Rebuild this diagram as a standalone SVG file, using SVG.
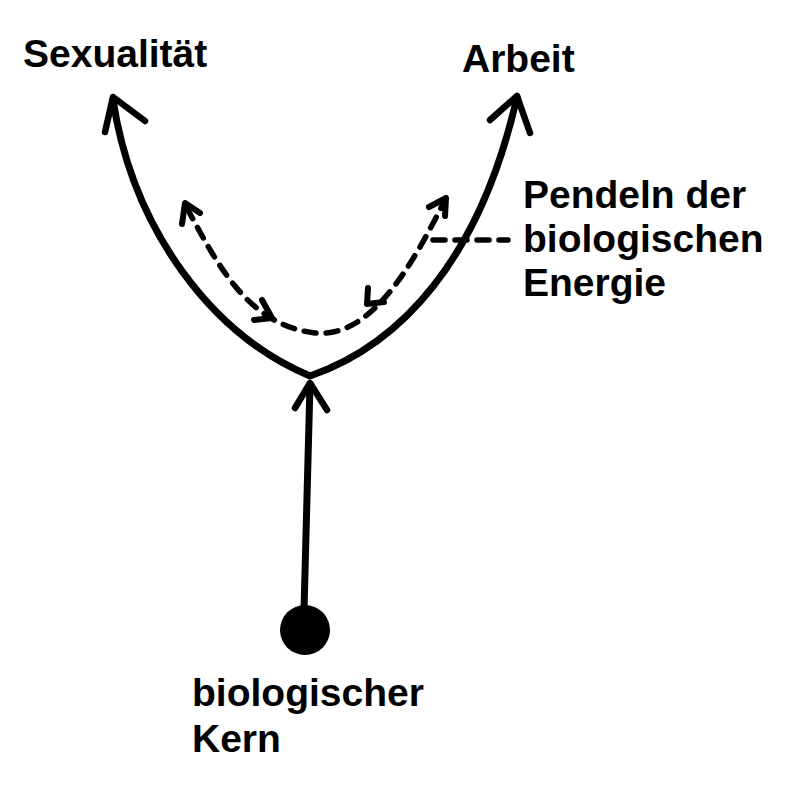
<svg xmlns="http://www.w3.org/2000/svg" width="785" height="787" viewBox="0 0 785 787">
<style>
.lbl{font-family:"Liberation Sans",Arial,sans-serif;font-weight:bold;font-size:39px;fill:#000}
.thick{fill:none;stroke:#000;stroke-width:7;stroke-linecap:round;stroke-linejoin:round}
.head{fill:none;stroke:#000;stroke-width:6.5;stroke-linecap:round;stroke-linejoin:round}
.dash{fill:none;stroke:#000;stroke-width:5.5;stroke-dasharray:12 10;stroke-linecap:round}
.shead{fill:none;stroke:#000;stroke-width:6;stroke-linecap:round;stroke-linejoin:round}
</style>
<rect width="785" height="787" fill="#fff"/>
<g id="node-sexualitaet"><text class="lbl" x="23" y="67">Sexualität</text></g>
<g id="node-arbeit"><text class="lbl" x="462" y="72">Arbeit</text></g>
<g id="node-pendeln"><text class="lbl" x="523" y="208">Pendeln der</text><text class="lbl" x="523" y="252">biologischen</text><text class="lbl" x="523" y="296">Energie</text></g>
<g id="node-kern"><circle cx="305" cy="630" r="25" fill="#000"/><text class="lbl" x="192" y="706">biologischer</text><text class="lbl" x="192" y="752">Kern</text></g>
<g id="connectors">
<path class="thick" d="M113,100 C133,230 212,335 310,376 C400,345 480,260 517,97"/>
<path class="head" d="M105,132 L113,97 L145,121"/>
<path class="head" d="M490,120 L517,96 L530,133"/>
<path class="thick" d="M304,610 L310,384"/>
<path class="head" d="M295,408 L310,383 L327,410"/>
<path class="dash" d="M187,208 C220,270 250,325 315,333 C370,338 410,270 445,200"/>
<path class="shead" d="M182,224 L185,203 L200,213"/>
<path class="shead" d="M262,300 L272,318 L254,320"/>
<path class="shead" d="M368,288 L367,304 L384,302"/>
<path class="shead" d="M429,207 L446,198 L445,216"/>
<path class="dash" d="M433,240 L508,240" stroke-dasharray="14 8"/>
</g>
</svg>
